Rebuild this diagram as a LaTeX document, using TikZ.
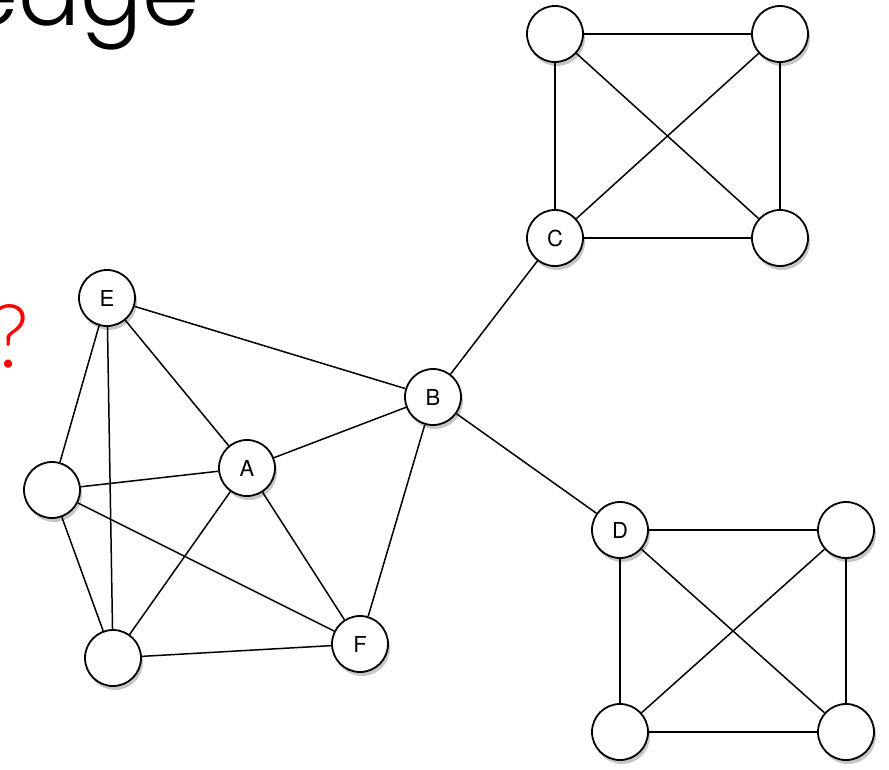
\documentclass[tikz,border=0pt]{standalone}
\usepackage{fontspec}
\setsansfont{TeX Gyre Heros}
\IfFontExistsTF{Poppins Light}
    {\newfontfamily\thinfont{Poppins Light}}
    {\newfontfamily\thinfont{TeX Gyre Heros}}
\IfFontExistsTF{Lato Light}
    {\newfontfamily\qmfont{Lato Light}}
    {\newfontfamily\qmfont{TeX Gyre Heros}}
\usetikzlibrary{shadows}

\begin{document}
\begin{tikzpicture}[x=1pt,y=-1pt,
                vtx/.style={circle,draw,line width=1.8pt,fill=white,minimum size=56pt,
                        inner sep=0pt,font=\sffamily\fontsize{22}{22}\selectfont,
                        drop shadow={shadow xshift=2pt,shadow yshift=-4pt,opacity=0.22,fill=black}},
                lnk/.style={line width=1.5pt},
                big/.style={inner sep=0pt,anchor=base east,font=\thinfont\fontsize{#1}{#1}\selectfont}]
            \useasboundingbox (0,0) rectangle (889,769);
            \clip (0,0) rectangle (889,769);
            % slide text, cut at the edge
            \node[big=92] (word) at (200,25) {edge};
            \node[big=88,text=red,font=\qmfont\fontsize{88}{88}\selectfont] (qm) at (30,367) {?};
            % left cluster
            \node[vtx] (E) at (107,298) {E};
            \node[vtx] (L) at (52,490) {};
            \node[vtx] (A) at (247,468) {A};
            \node[vtx] (B) at (433,397) {B};
            \node[vtx] (G) at (113,658) {};
            \node[vtx] (F) at (360,644) {F};
            % upper square
            \node[vtx] (C) at (555,238) {C};
            \node[vtx] (c1) at (555,34) {};
            \node[vtx] (c2) at (780,34) {};
            \node[vtx] (c3) at (780,238) {};
            % lower square
            \node[vtx] (D) at (620,530) {D};
            \node[vtx] (d1) at (846,530) {};
            \node[vtx] (d2) at (620,732) {};
            \node[vtx] (d3) at (846,732) {};
            \foreach \u/\v in {E/B,E/A,E/L,E/G,L/A,L/G,L/F,A/G,A/F,A/B,B/F,G/F,B/C,B/D,
                    c1/c2,c1/C,c1/c3,c2/C,c2/c3,C/c3,D/d1,D/d2,D/d3,d1/d2,d1/d3,d2/d3}
                {\draw[lnk] (\u) -- (\v);}
        \end{tikzpicture}
\end{document}
